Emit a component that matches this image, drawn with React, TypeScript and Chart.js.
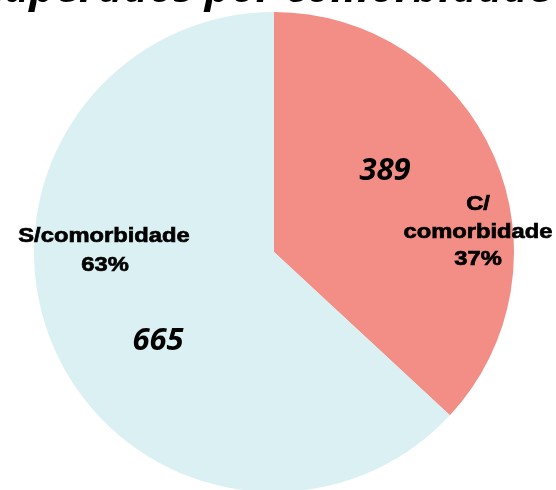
import React, { useEffect, useRef } from "react";
import { Chart, registerables } from "chart.js";

Chart.register(...registerables);

const categories = ["C/ comorbidade", "S/ comorbidade"];
const values = [389, 665];
const percentLabels = ["37%", "63%"];
const colors = ["#F28E86", "#DAF0F3"];
const titleText = "Recuperados por comorbidade";

const labelPlugin = {
  id: "labelPlugin",
  afterDraw(chart: any) {
    const ctx = chart.ctx as CanvasRenderingContext2D;
    ctx.save();
    ctx.fillStyle = "#000";
    ctx.strokeStyle = "#000";
    // title (cropped at top)
    ctx.font = "italic bold 43px 'Open Sans'";
    ctx.textAlign = "right";
    ctx.textBaseline = "alphabetic";
    ctx.fillText(titleText, 552, 2);

    const drawStretched = (text: string, x: number, y: number) => {
      ctx.save();
      ctx.translate(x, y);
      ctx.scale(1.13, 1);
      ctx.textAlign = "center";
      ctx.lineWidth = 0.7;
      ctx.fillText(text, 0, 0);
      ctx.strokeText(text, 0, 0);
      ctx.restore();
    };
    ctx.font = "bold 21px 'Liberation Sans'";
    // right slice label
    drawStretched("C/", 478, 210);
    drawStretched("comorbidade", 478, 238);
    drawStretched(percentLabels[0], 478, 265);
    // left slice label
    drawStretched("S/comorbidade", 104, 242);
    drawStretched(percentLabels[1], 105, 271);

    ctx.font = "italic bold 31px 'Open Sans'";
    ctx.textAlign = "center";
    ctx.fillText(String(values[0]), 385, 180);
    ctx.fillText(String(values[1]), 158, 350);
    ctx.restore();
  },
};

export default function App() {
  const ref = useRef<HTMLCanvasElement | null>(null);
  useEffect(() => {
    if (!ref.current) return;
    const chart = new Chart(ref.current, {
      type: "pie",
      data: {
        labels: categories,
        datasets: [
          {
            data: values,
            backgroundColor: colors,
            borderWidth: 0,
          },
        ],
      },
      options: {
        animation: false,
        responsive: false,
        layout: { padding: { top: 12, bottom: 8, left: 0, right: 8 } },
        plugins: {
          legend: { display: false },
          tooltip: { enabled: false },
          title: { display: false },
        },
      },
      plugins: [labelPlugin],
    });
    return () => chart.destroy();
  }, []);
  return (
    <div
      style={{
        position: "absolute",
        left: 0,
        top: 0,
        width: 556,
        height: 490,
        overflow: "hidden",
        background: "#fff",
      }}
    >
      <canvas ref={ref} width={556} height={500} style={{ display: "block" }} />
    </div>
  );
}
